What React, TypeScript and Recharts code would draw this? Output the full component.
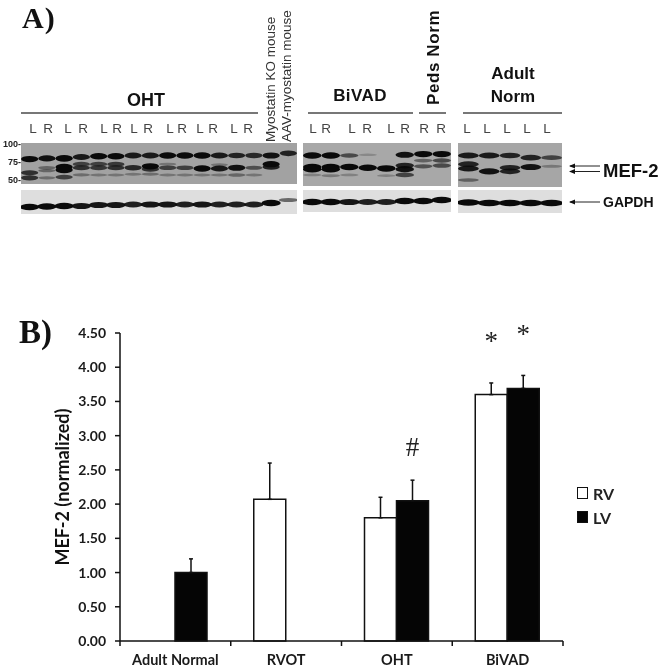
import { BarChart, Bar, ErrorBar, LabelList, Legend, XAxis, YAxis, ScatterChart, Scatter } from 'recharts'

// panel B
const categories = ['Adult Normal', 'RVOT', 'OHT', 'BiVAD']
const rvValues = [null, 2.07, 1.8, 3.6]
const lvValues = [1.0, null, 2.05, 3.69]
const rvErrors = [null, 0.53, 0.3, 0.17]
const lvErrors = [0.2, null, 0.3, 0.19]
const rvMarks = [null, null, null, '*']
const lvMarks = [null, null, '#', '*']
const yTicks = [0, 0.5, 1, 1.5, 2, 2.5, 3, 3.5, 4, 4.5]

const chartData = categories.map((name, i) => ({
  name,
  RV: rvValues[i],
  LV: lvValues[i],
  rvErr: rvErrors[i] === null ? null : [0, rvErrors[i]],
  lvErr: lvErrors[i] === null ? null : [0, lvErrors[i]],
  rvMark: rvMarks[i],
  lvMark: lvMarks[i],
}))

// panel A, bands: [lane, kDa, density]
const ohtBands = [
  [1, 79, 0.95], [1, 60, 0.7], [1, 53, 0.7],
  [2, 80, 0.9], [2, 67, 0.35], [2, 63, 0.35], [2, 53, 0.3],
  [3, 80, 1], [3, 68, 1], [3, 64, 1], [3, 54, 0.6],
  [4, 82, 0.85], [4, 72, 0.6], [4, 67, 0.7], [4, 57, 0.3],
  [5, 83, 0.95], [5, 72, 0.6], [5, 67, 0.65], [5, 57, 0.25],
  [6, 83, 0.95], [6, 72, 0.65], [6, 67, 0.7], [6, 57, 0.25],
  [7, 84, 0.85], [7, 67, 0.75], [7, 58, 0.25],
  [8, 84, 0.85], [8, 69, 0.95], [8, 65, 0.7], [8, 58, 0.3],
  [9, 84, 1], [9, 72, 0.25], [9, 67, 0.6], [9, 57, 0.25],
  [10, 84, 0.95], [10, 67, 0.6], [10, 57, 0.25],
  [11, 84, 0.95], [11, 66, 0.95], [11, 57, 0.25],
  [12, 84, 0.85], [12, 71, 0.25], [12, 66, 0.85], [12, 57, 0.25],
  [13, 84, 0.8], [13, 67, 0.9], [13, 57, 0.35],
  [14, 84, 0.75], [14, 67, 0.5], [14, 57, 0.25],
  [15, 84, 0.9], [15, 72, 0.95], [15, 68, 0.8],
  [16, 87, 0.8],
]
const bivadBands = [
  [1, 84, 0.95], [1, 68, 1], [1, 65, 1], [1, 57, 0.2],
  [2, 84, 0.95], [2, 68, 1], [2, 65, 1], [2, 56, 0.25],
  [3, 84, 0.55], [3, 68, 1], [3, 57, 0.2],
  [4, 85, 0.15], [4, 67, 1],
  [5, 66, 1], [5, 56, 0.2],
  [6, 85, 0.9], [6, 70, 0.8], [6, 65, 0.9], [6, 57, 0.6],
  [7, 86, 0.95], [7, 77, 0.4], [7, 69, 0.5],
  [8, 86, 0.95], [8, 77, 0.55], [8, 70, 0.55],
]
const adultBands = [
  [1, 84, 0.85], [1, 72, 0.8], [1, 66, 0.85], [1, 50, 0.4],
  [2, 84, 0.85], [2, 62, 0.9],
  [3, 84, 0.8], [3, 67, 0.8], [3, 62, 0.8],
  [4, 81, 0.8], [4, 68, 0.9],
  [5, 81, 0.6], [5, 69, 0.25],
]
// GAPDH bands: [lane, position in the strip, density]
const ohtGapdh = [
  [1, 7, 1], [2, 7.5, 0.95], [3, 8, 0.95], [4, 8, 0.9], [5, 9, 0.9], [6, 9, 0.9], [7, 9.5, 0.85], [8, 9.5, 0.9],
  [9, 9.5, 0.9], [10, 9.5, 0.85], [11, 9.5, 0.9], [12, 9.5, 0.85], [13, 9.5, 0.85], [14, 9.5, 0.85], [15, 11, 0.95], [16, 14, 0.5],
]
const bivadGapdh = [
  [1, 10, 1], [2, 10, 0.95], [3, 10, 0.9], [4, 10, 0.85], [5, 10, 0.85], [6, 11, 1], [7, 11, 1], [8, 12, 1],
]
const adultGapdh = [
  [1, 10.5, 1], [2, 10, 0.95], [3, 10, 0.95], [4, 10, 0.95], [5, 10, 1],
]

const sans = '"Liberation Sans", Arial, sans-serif'
const lato = 'Lato, sans-serif'
const serif = '"Liberation Serif", serif'

function BlotPanel({ left, top, width, height, lanes, bands, domain, bg, spread = 0.5 }: any) {
  const points = bands.map((b: number[]) => ({ lane: b[0], level: b[1], density: b[2] }))
  const laneWidth = width / lanes
  const shape = (props: any) => {
    const d = props.payload.density
    return (
      <ellipse
        cx={props.cx}
        cy={props.cy}
        rx={laneWidth * spread}
        ry={0.9 + d * 2.4}
        fill="#0a0a0a"
        fillOpacity={Math.min(1, d + 0.05)}
      />
    )
  }
  return (
    <div style={{ position: 'absolute', left, top, width, height, background: bg, overflow: 'hidden' }}>
      <div style={{ filter: 'blur(0.7px)' }}>
        <ScatterChart width={width} height={height} margin={{ top: 0, right: 0, bottom: 0, left: 0 }}>
          <XAxis type="number" dataKey="lane" domain={[0.5, lanes + 0.5]} hide />
          <YAxis type="number" dataKey="level" domain={domain} hide />
          <Scatter data={points} shape={shape} isAnimationActive={false} />
        </ScatterChart>
      </div>
    </div>
  )
}

function CategoryTick({ x, y, payload, index }: any) {
  const step = 443 / categories.length
  return (
    <g>
      {index === 0 && <line x1={x - step / 2} y1={y - 8} x2={x - step / 2} y2={y - 3} stroke="#111" strokeWidth={1.5} />}
      <line x1={x + step / 2} y1={y - 8} x2={x + step / 2} y2={y - 3} stroke="#111" strokeWidth={1.5} />
      <text x={x} y={y + 16} textAnchor="middle" fontFamily={lato} fontWeight={700} fontSize={14.5} fill="#1a1a1a">
        {payload.value}
      </text>
    </g>
  )
}

function KeyLegend() {
  return (
    <div style={{ fontFamily: lato, fontWeight: 700, fontSize: 16, color: '#222' }}>
      {[['RV', '#fff'], ['LV', '#050505']].map(([label, fill]) => (
        <div key={label} style={{ display: 'flex', alignItems: 'center', height: 24 }}>
          <span style={{ width: 9, height: 10, background: fill, border: '1.5px solid #111', marginRight: 5 }} />
          {label}
        </div>
      ))}
    </div>
  )
}

const markStyle = { fontFamily: serif, fontSize: 27, fill: '#222' }

export default function App() {
  return (
    <div style={{ position: 'absolute', left: 0, top: 0, width: 661, height: 668, background: '#fff', overflow: 'hidden' }}>
      <BlotPanel left={21} top={143} width={276} height={41} lanes={16} bands={ohtBands} domain={[44.4, 101.4]} bg="#a2a2a2" />
      <BlotPanel left={303} top={143} width={148} height={43} lanes={8} bands={bivadBands} domain={[41.6, 101.4]} bg="#a8a8a8" />
      <BlotPanel left={458} top={143} width={104} height={44} lanes={5} bands={adultBands} domain={[40.3, 101.4]} bg="#a6a6a6" />
      <BlotPanel left={21} top={190} width={276} height={24} lanes={16} bands={ohtGapdh} domain={[0, 24]} bg="#dedede" spread={0.56} />
      <BlotPanel left={303} top={190} width={148} height={22} lanes={8} bands={bivadGapdh} domain={[0, 22]} bg="#dedede" spread={0.56} />
      <BlotPanel left={458} top={190} width={104} height={23} lanes={5} bands={adultGapdh} domain={[0, 23]} bg="#dedede" spread={0.56} />

      <svg width={661} height={668} style={{ position: 'absolute', left: 0, top: 0, filter: 'blur(0.3px)' }}>
        <text x={22} y={28} fontFamily={serif} fontWeight={700} fontSize={30} letterSpacing={1} fill="#111">A)</text>
        <text x={146} y={106} textAnchor="middle" fontFamily={sans} fontWeight={700} fontSize={18} fill="#111">OHT</text>
        <text x={360} y={101} textAnchor="middle" fontFamily={sans} fontWeight={700} fontSize={17} letterSpacing={0.4} fill="#111">BiVAD</text>
        <text x={513} y={79} textAnchor="middle" fontFamily={sans} fontWeight={700} fontSize={17} fill="#111">Adult</text>
        <text x={513} y={102} textAnchor="middle" fontFamily={sans} fontWeight={700} fontSize={17} fill="#111">Norm</text>
        <text transform="translate(439 105) rotate(-90)" fontFamily={sans} fontWeight={700} fontSize={17} letterSpacing={0.6} fill="#111">Peds Norm</text>
        <text transform="translate(275 142) rotate(-90)" fontFamily={sans} fontSize={13.5} fill="#333">Myostatin KO mouse</text>
        <text transform="translate(291 142) rotate(-90)" fontFamily={sans} fontSize={13.5} fill="#333">AAV-myostatin mouse</text>
        <line x1={21} y1={113} x2={258} y2={113} stroke="#777" strokeWidth={2} />
        <line x1={308} y1={113} x2={413} y2={113} stroke="#777" strokeWidth={2} />
        <line x1={419} y1={113} x2={446} y2={113} stroke="#777" strokeWidth={2} />
        <line x1={463} y1={113} x2={562} y2={113} stroke="#777" strokeWidth={2} />
        {[
          ['L', 33], ['R', 48], ['L', 68], ['R', 83], ['L', 104], ['R', 117], ['L', 134], ['R', 148],
          ['L', 170], ['R', 182], ['L', 200], ['R', 213], ['L', 234], ['R', 248],
          ['L', 313], ['R', 326], ['L', 352], ['R', 367], ['L', 391], ['R', 405], ['R', 424], ['R', 441],
          ['L', 467], ['L', 487], ['L', 507], ['L', 527], ['L', 547],
        ].map(([t, x], i) => (
          <text key={i} x={x} y={133} textAnchor="middle" fontFamily={sans} fontSize={13.5} fill="#444">{t}</text>
        ))}
        {[['100-', 147], ['75-', 165], ['50-', 183]].map(([t, y]) => (
          <text key={t} x={21} y={y} textAnchor="end" fontFamily={sans} fontWeight={700} fontSize={9} fill="#222">{t}</text>
        ))}
        <text x={603} y={177} fontFamily={sans} fontWeight={700} fontSize={18.5} fill="#111">MEF-2</text>
        <text x={603} y={207} fontFamily={sans} fontWeight={700} fontSize={14} fill="#111">GAPDH</text>
        {[166, 171.5, 202].map(y => (
          <g key={y}>
            <line x1={570} y1={y} x2={600} y2={y} stroke="#222" strokeWidth={1} />
            <path d={`M569 ${y} l6 -2.5 v5 z`} fill="#111" />
          </g>
        ))}
        <text x={19} y={343} fontFamily={serif} fontWeight={700} fontSize={33} fill="#111">B)</text>
      </svg>

      <div style={{ position: 'absolute', left: 0, top: 300, filter: 'blur(0.3px)' }}>
        <BarChart
          width={661}
          height={368}
          data={chartData}
          barSize={32}
          barGap={0}
          margin={{ top: 33, right: 38, bottom: 0, left: 60 }}
        >
          <XAxis
            dataKey="name"
            axisLine={{ stroke: '#111', strokeWidth: 1.5 }}
            tickLine={false}
            height={27}
            interval={0}
            tick={<CategoryTick />}
          />
          <YAxis
            width={60}
            domain={[0, 4.5]}
            ticks={yTicks}
            tickFormatter={(v: number) => v.toFixed(2)}
            axisLine={{ stroke: '#111', strokeWidth: 1.5 }}
            tickLine={{ stroke: '#111', strokeWidth: 1.5 }}
            tickSize={5}
            tickMargin={9}
            tick={{ fontFamily: lato, fontWeight: 700, fontSize: 14, fill: '#1a1a1a' }}
            label={{
              value: 'MEF-2 (normalized)',
              angle: -90,
              position: 'insideLeft',
              offset: 0,
              dx: 3,
              style: { fontFamily: lato, fontWeight: 700, fontSize: 18, fill: '#111', textAnchor: 'middle' },
            }}
          />
          <Legend
            layout="vertical"
            align="right"
            verticalAlign="middle"
            width={60}
            content={<KeyLegend />}
            wrapperStyle={{ position: 'absolute', left: 577, top: 181, width: 60 }}
          />
          <Bar dataKey="RV" fill="#fff" stroke="#111" strokeWidth={1.5} isAnimationActive={false}>
            <ErrorBar dataKey="rvErr" direction="y" width={2} stroke="#111" strokeWidth={1.5} isAnimationActive={false} />
            <LabelList dataKey="rvMark" position="top" offset={45} style={markStyle} />
          </Bar>
          <Bar dataKey="LV" fill="#050505" stroke="#111" strokeWidth={1.5} isAnimationActive={false}>
            <ErrorBar dataKey="lvErr" direction="y" width={2} stroke="#111" strokeWidth={1.5} isAnimationActive={false} />
            <LabelList dataKey="lvMark" position="top" offset={45} style={markStyle} />
          </Bar>
        </BarChart>
      </div>
    </div>
  )
}
